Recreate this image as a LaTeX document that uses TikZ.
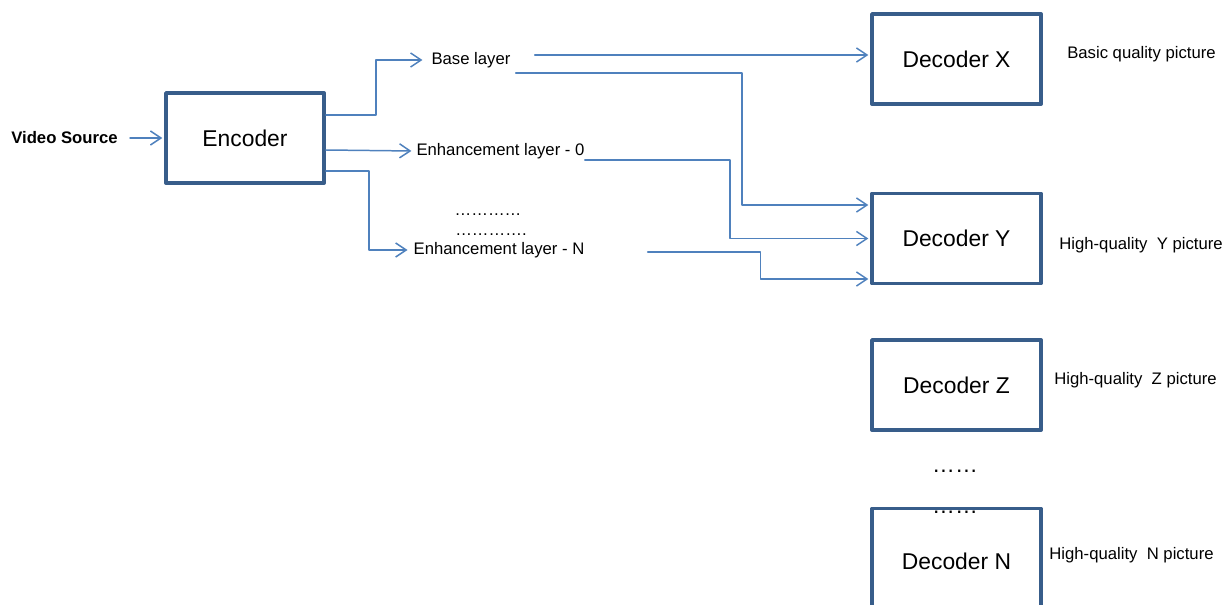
\documentclass[tikz,border=0pt]{standalone}
\usepackage{fontspec}
\setmainfont{Liberation Sans}
\usetikzlibrary{arrows.meta}
\definecolor{lineblue}{HTML}{4F81BD}
\definecolor{boxblue}{HTML}{385D8A}
\begin{document}
\begin{tikzpicture}[line cap=round,line join=round,
  lbl/.style={font=\fontsize{9.5}{11}\selectfont,inner sep=0pt},
  blk/.style={draw=boxblue,line width=2.2pt,inner sep=0pt,
    minimum width=3.38cm,minimum height=1.8cm,font=\fontsize{13}{15}\selectfont},
  conn/.style={draw=lineblue,line width=0.85pt},
  arr/.style={conn,shorten >=1pt,-{Straight Barb[length=6pt,width=8pt]}}]
  \useasboundingbox (0,0) rectangle (24.54,-12.1);
  % 编码端
  \node[lbl,font=\fontsize{9.5}{11}\selectfont\bfseries] (src) at (1.29,-2.76) {Video Source};
  \node[blk,minimum width=3.16cm] (enc) at (4.9,-2.76) {Encoder};
  \node[lbl] (base) at (9.42,-1.2) {Base layer};
  \node[lbl] (enh0) at (10.01,-3.02) {Enhancement layer - 0};
  \node[lbl,anchor=base] (dots1) at (9.76,-4.31) {…………};
  \node[lbl,anchor=base] (dots2) at (9.82,-4.71) {………….};
  \node[lbl] (enhN) at (9.98,-5.0) {Enhancement layer - N};
  % 解码端
  \node[blk] (decX) at (19.13,-1.18) {Decoder X};
  \node[blk] (decY) at (19.13,-4.77) {Decoder Y};
  \node[blk] (decZ) at (19.13,-7.7) {Decoder Z};
  \node[blk,minimum height=2.1cm] (decN) at (19.13,-11.22) {Decoder N};
  \node[lbl,font=\fontsize{13}{15}\selectfont,anchor=base] (vdots1) at (19.1,-9.44) {……};
  \node[lbl,font=\fontsize{13}{15}\selectfont,anchor=base] (vdots2) at (19.1,-10.26) {……};
  \node[lbl] (outX) at (22.83,-1.08) {Basic quality picture};
  \node[lbl] (outY) at (22.82,-4.9) {High-quality~ Y picture};
  \node[lbl] (outZ) at (22.71,-7.6) {High-quality~ Z picture};
  \node[lbl] (outN) at (22.63,-11.1) {High-quality~ N picture};
  % 编码器输出
  \draw[arr] ([xshift=0.24cm]src.east) -- (enc.west);
  \draw[arr] ([yshift=0.46cm]enc.east) -- ++(1.0,0) |- ([xshift=-0.14cm]base.west);
  \draw[arr] ([yshift=-0.24cm]enc.east) -- ([xshift=-0.06cm]enh0.west);
  \draw[arr] ([yshift=-0.66cm]enc.east) -- ++(0.86,0) |- ([xshift=-0.08cm]enhN.west);
  % 各层到解码器
  \coordinate (b1) at ([xshift=0.48cm,yshift=0.1cm]base.east);
  \coordinate (b2) at ([xshift=0.1cm,yshift=-0.26cm]base.east);
  \coordinate (e0) at ([yshift=-0.18cm]enh0.east);
  \coordinate (eN) at ([xshift=1.26cm,yshift=-0.04cm]enhN.east);
  \draw[arr] (b1) -- (b1 -| decX.west);
  \draw[arr] (b2) -- ++(4.52,0) |- ([yshift=0.67cm]decY.west);
  \draw[arr] (e0) -- ++(2.9,0) |- (decY.west);
  \draw[arr] (eN) -- ++(2.26,0) |- ([yshift=-0.81cm]decY.west);
\end{tikzpicture}
\end{document}
